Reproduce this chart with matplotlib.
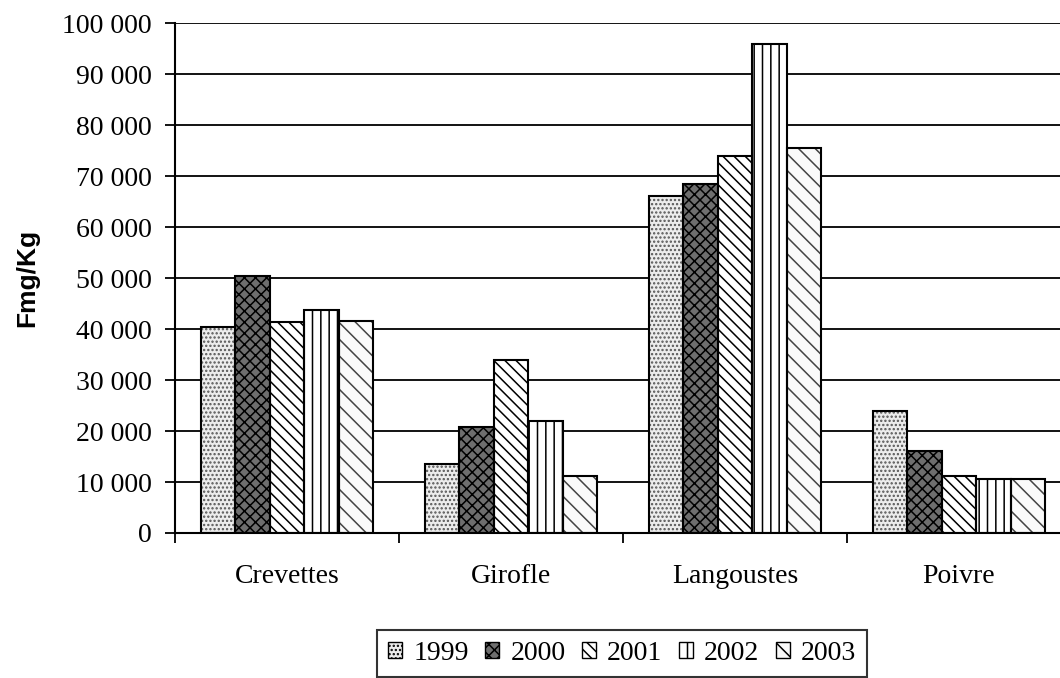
import numpy as np
import matplotlib
matplotlib.use('Agg')
from matplotlib import pyplot as plt
from matplotlib.patches import Patch
from matplotlib.ticker import FuncFormatter

# données (Fmg/Kg)
categories = ['Crevettes', 'Girofle', 'Langoustes', 'Poivre']
years = ['1999', '2000', '2001', '2002', '2003']
v1999 = [40400, 13500, 66100, 23900]
v2000 = [50400, 20800, 68400, 16100]
v2001 = [41300, 33900, 73900, 11200]
v2002 = [43700, 22000, 95900, 10600]
v2003 = [41600, 11200, 75500, 10600]
series = [v1999, v2000, v2001, v2002, v2003]

# motifs façon Excel noir et blanc
faces = ['#ececec', '#6e6e6e', 'white', 'white', '#fafafa']
hatches = ['....', 'xxx', '\\\\\\', '||', '\\\\']
hcols = ['#555555', 'black', 'black', 'black', '#444444']

plt.rcParams['hatch.linewidth'] = 1.1
serif = 'Liberation Serif'

fig = plt.figure(figsize=(10.6, 6.78), dpi=100)
ax = fig.add_axes([175 / 1060, 1 - 533 / 678, (1071 - 175) / 1060, (533 - 23) / 678])

n = len(years)
w = 1.0 / (n + 1.5)
x = np.arange(len(categories)) + 0.5
for i, vals in enumerate(series):
    pos = x + (i - (n - 1) / 2) * w
    ax.bar(pos, vals, w, color=faces[i], hatch=hatches[i], edgecolor=hcols[i],
           linewidth=0, zorder=2)
    ax.bar(pos, vals, w, fill=False, edgecolor='black', linewidth=1.5, zorder=3)

ax.set_xlim(0, len(categories))
ax.set_ylim(0, 100000)
ax.set_yticks(np.arange(0, 100001, 10000))
ax.yaxis.set_major_formatter(FuncFormatter(lambda v, p: f'{int(v):,}'.replace(',', ' ')))
ax.grid(axis='y', color='black', linewidth=1.3, zorder=1)
ax.set_axisbelow(True)

ax.set_xticks(np.arange(0, len(categories) + 1))
ax.set_xticklabels([])
ax.set_xticks(x, minor=True)
ax.set_xticklabels(categories, minor=True)
ax.tick_params(axis='x', which='major', length=7, width=1.3, direction='out')
ax.tick_params(axis='x', which='minor', length=0, pad=22)
ax.tick_params(axis='y', length=7, width=1.3, pad=10)
for lab in ax.get_xticklabels(minor=True) + ax.get_yticklabels():
    lab.set_fontfamily(serif)
    lab.set_fontsize(20)

for s in ['top', 'right']:
    ax.spines[s].set_visible(False)
for s in ['left', 'bottom']:
    ax.spines[s].set_linewidth(1.5)

ax.set_ylabel('Fmg/Kg', fontfamily='Liberation Sans', fontweight='bold',
              fontsize=19, labelpad=16)

handles = [Patch(facecolor=faces[i], hatch=hatches[i], edgecolor='black', linewidth=1)
           for i in range(n)]
leg = fig.legend(handles, years, loc='upper left', bbox_to_anchor=(377 / 1060, 1 - 630 / 678),
                 ncol=n, frameon=True, fancybox=False, edgecolor='black',
                 prop={'family': serif, 'size': 20}, handlelength=0.5, handleheight=0.5,
                 handletextpad=0.4, columnspacing=0.6, borderpad=0.4, borderaxespad=0)
leg.get_frame().set_linewidth(1.5)

fig.savefig('out.png', dpi=100)
